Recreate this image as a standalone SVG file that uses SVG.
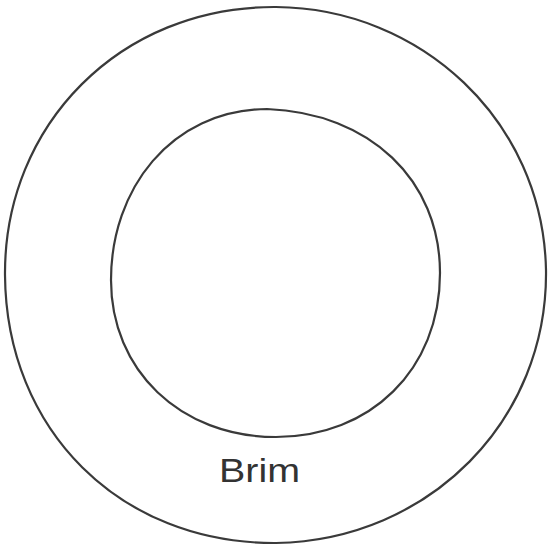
<svg xmlns="http://www.w3.org/2000/svg" width="548" height="548" viewBox="0 0 548 548">
<style>
.ring{fill:none;stroke:#3a3a3a;stroke-width:2.2;stroke-linejoin:round}
.lbl{font-family:"Liberation Sans","DejaVu Sans",sans-serif;font-size:33px;fill:#333}
</style>
<rect width="548" height="548" fill="#fff"/>
<g id="outer-rim">
<path class="ring" d="M 276 7 C 420 8 543 120 546 270 C 548 420 430 540 276 543 C 120 544 6 430 5 275 C 4 125 120 6 276 7 Z"/>
</g>
<g id="inner-crown">
<path class="ring" d="M 267 109 C 370 113 440 180 440 273 C 440 370 370 437 276 437 C 180 437 111 370 111 280 C 111 190 170 110 267 109 Z"/>
</g>
<g id="brim-label">
<text class="lbl" x="219" y="482" textLength="81" lengthAdjust="spacingAndGlyphs">Brim</text>
</g>
</svg>
